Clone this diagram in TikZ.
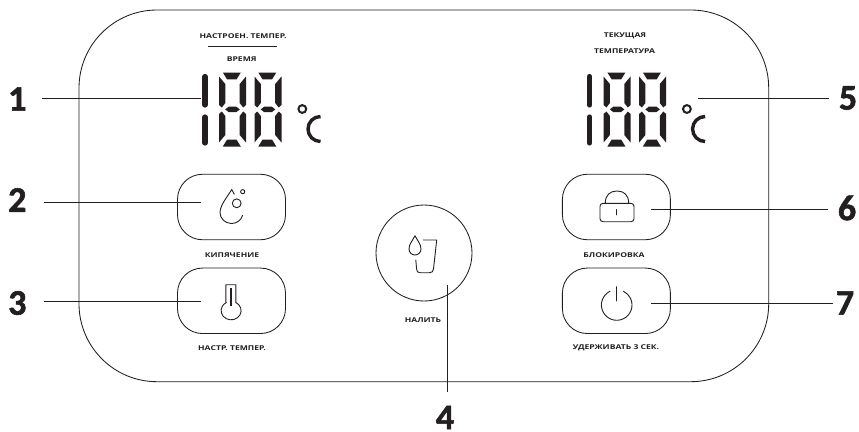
\documentclass[tikz,border=0pt]{standalone}
\usepackage{fontspec}
\newfontfamily\labfont[FakeStretch=1.3]{Open Sans}
\newfontfamily\numfont[BoldFeatures={FakeBold=1.6}]{Carlito}
\definecolor{ink}{HTML}{231F20}
\tikzset{
  seg/.style={fill=ink,draw=none},
  bar/.style={draw=ink,line width=5.2pt,line cap=round},
  frameline/.style={draw=ink,line width=0.85pt},
  boxbtn/.style={draw=ink,line width=0.85pt,rectangle,rounded corners=25pt,minimum width=108pt,minimum height=65.5pt,inner sep=0pt},
  leader/.style={draw=ink,line width=0.95pt},
  icon/.style={draw=ink,line width=0.9pt,line cap=round,line join=round},
  lab/.style={font=\labfont\bfseries\fontsize{6.6}{8}\selectfont,text=ink,inner sep=0pt,anchor=center},
  num/.style={font=\numfont\bfseries\fontsize{36}{36}\selectfont,text=ink,inner sep=0pt,anchor=center},
}
\newcommand{\segdigit}[1]{%
  \begin{scope}[xshift=#1pt]
    \fill[seg] (222.8,72.5)--(240.8,72.5)--(236.6,79.3)--(227,79.3)--cycle;
    \fill[seg] (222.8,146.5)--(240.8,146.5)--(236.6,139.7)--(227,139.7)--cycle;
    \fill[seg] (219,76.5)--(225.3,84)--(225.3,103)--(221.8,107.5)--(219,105)--cycle;
    \fill[seg] (219,142.5)--(225.3,135)--(225.3,116)--(221.8,111.5)--(219,114)--cycle;
    \fill[seg] (246,76.5)--(239.7,84)--(239.7,103)--(243.2,107.5)--(246,105)--cycle;
    \fill[seg] (246,142.5)--(239.7,135)--(239.7,116)--(243.2,111.5)--(246,114)--cycle;
    \fill[seg] (225.2,109.4)--(228.8,106.6)--(236.2,106.6)--(239.8,109.4)--(236.2,112.2)--(228.8,112.2)--cycle;
  \end{scope}}
\newcommand{\fulldisplay}[1]{%
  \begin{scope}[xshift=#1pt]
    \draw[bar] (205,76.5)--(205,105);
    \draw[bar] (205,117)--(205,143);
    \segdigit{0}
    \segdigit{35.5}
    \draw[draw=ink,line width=2pt] (302.3,109) circle (3.9pt);
    \draw[draw=ink,line width=3.4pt] (320.5,116.5) arc (90:270:12.5pt);
  \end{scope}}
\begin{document}
\begin{tikzpicture}[x=1pt,y=-1pt]
\useasboundingbox (0,0) rectangle (859,431);
\fill[white] (0,0) rectangle (859,431);
% frame
\node[frameline,rectangle,rounded corners=78pt,minimum width=689.7pt,minimum height=371.7pt,inner sep=0pt] (panel) at (423.85,195.85) {};
% displays
\fulldisplay{0}
\fulldisplay{384.6}
% buttons
\node[boxbtn] (boil) at (231.5,207) {};
\node[boxbtn] (temp) at (231.5,300.8) {};
\node[boxbtn] (lock) at (616.4,207) {};
\node[boxbtn] (power) at (616.4,300.8) {};
\node[draw=ink,line width=0.85pt,circle,minimum size=96pt,inner sep=0pt] (pour) at (424,253) {};
% drop + bubbles
\draw[icon] (234.3,194.3)--(231.7,189.5) .. controls (228,196) and (220,205) .. (220,212.5)
  arc (180:345:11.5pt and 11pt);
\draw[icon] (236.7,203.3) circle (4.4pt);
\draw[icon] (242.7,191.7) circle (2.1pt);
% thermometer
\draw[icon] (225.8,302.5)--(225.8,284.7)--(235.8,284.7)--(235.8,302.5)
  arc (62:-242:10pt and 9.2pt) -- cycle;
\draw[draw=ink,line width=1.4pt] (230.8,288)--(230.8,305.5);
% lock
\draw[icon,rounded corners=3pt] (600,203.3) rectangle (634,221.7);
\draw[icon] (605.3,203.3) .. controls (605.3,195) and (610,191) .. (617,191) .. controls (624,191) and (628.7,195) .. (628.7,203.3);
\draw[icon] (616.7,209.5)--(616.7,214.8);
% power
\draw[icon] (610,291.25) arc (116:424:15.3pt);
\draw[icon] (616.7,286.7)--(616.7,301);
% drop + cup
\draw[icon] (415,235.7) .. controls (413,240) and (409,244) .. (409,249) arc (180:360:6pt) .. controls (421,244) and (417,240) .. (415,235.7) -- cycle;
\draw[icon] (423.3,240)--(436.7,240)--(433.5,269) .. controls (433.2,271.5) and (432,272.7) .. (429.5,272.7)--(420,272.7) .. controls (417.8,272.7) and (416.7,271.5) .. (416.6,269)--(415.8,260);
% labels
\node[lab] (l1a) at (243,36) {НАСТРОЕН. ТЕМПЕР.};
\node[lab] (l1b) at (241.7,59) {ВРЕМЯ};
\coordinate (sepa) at (207.5,46.7);
\coordinate (sepb) at (277,46.7);
\draw[leader] (sepa)--(sepb);
\node[lab] (l2) at (232,255) {КИПЯЧЕНИЕ};
\node[lab] (l3) at (232,348) {НАСТР. ТЕМПЕР.};
\node[lab] (l4) at (423,320) {НАЛИТЬ};
\node[lab] (l5a) at (625,35.7) {ТЕКУЩАЯ};
\node[lab] (l5b) at (624.6,51) {ТЕМПЕРАТУРА};
\node[lab] (l6) at (614,255) {БЛОКИРОВКА};
\node[lab] (l7) at (616,348) {УДЕРЖИВАТЬ 3 СЕК.};
% numbers
\node[num] (n1) at (17.3,99) {1};
\node[num] (n2) at (17.3,200) {2};
\node[num] (n3) at (17.3,303) {3};
\node[num] (n4) at (445,417.5) {4};
\node[num] (n5) at (848,98) {5};
\node[num] (n6) at (847,208) {6};
\node[num] (n7) at (845,303) {7};
% leader ends
\coordinate (a1) at (42,98); \coordinate (b1) at (200.7,98);
\coordinate (a2) at (44,202.3); \coordinate (b2) at (200.7,202.3);
\coordinate (a3) at (44,301.7); \coordinate (b3) at (200.7,301.7);
\coordinate (a4) at (447,285); \coordinate (b4) at (447,391.5);
\coordinate (a5) at (698,98); \coordinate (b5) at (829,98);
\coordinate (a6) at (651,209.3); \coordinate (b6) at (828,209.3);
\coordinate (a7) at (651,303.3); \coordinate (b7) at (832.7,303.3);
\foreach \i in {1,...,7} {\draw[leader] (a\i)--(b\i);}
\end{tikzpicture}
\end{document}
